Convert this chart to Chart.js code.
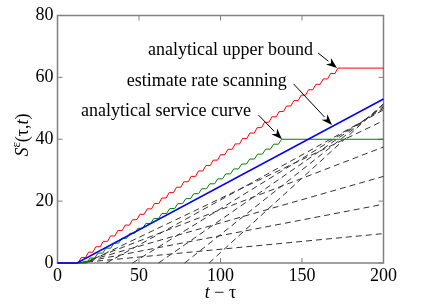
<!DOCTYPE html>
<html>
<head>
<meta charset="utf-8">
<script src="https://cdn.jsdelivr.net/npm/chart.js@4.4.1/dist/chart.umd.min.js"></script>
<style>
  html, body { margin: 0; padding: 0; background: #fff; }
  canvas { display: block; }
</style>
</head>
<body>
<canvas id="chart" width="424" height="307"></canvas>
<script>
// upper bound staircase
const redT = [0, 10, 14.5, 19, 23.5, 28, 32.5, 37, 41.5, 46, 50.5, 55, 59.5, 64, 68.5, 73, 77.5, 82, 86.5, 91, 95.5,
  100, 104.5, 109, 113.5, 118, 122.5, 127, 131.5, 136, 140.5, 145, 149.5, 154, 158.5, 163, 167.5, 172, 200];
const redS = [0, 0, 1.75, 3.5, 5.25, 7, 8.75, 10.5, 12.25, 14, 15.75, 17.5, 19.25, 21, 22.75, 24.5, 26.25, 28, 29.75,
  31.5, 33.25, 35, 36.75, 38.5, 40.25, 42, 43.75, 45.5, 47.25, 49, 50.75, 52.5, 54.25, 56, 57.75, 59.5, 61.25, 63, 63];

// service curve staircase
const greenT = [0, 15, 19.9, 24.8, 29.7, 34.6, 39.5, 44.4, 49.3, 54.2, 59.1, 64, 68.9, 73.8, 78.7, 83.6, 88.5, 93.4,
  98.3, 103.2, 108.1, 113, 117.9, 122.8, 127.7, 132.6, 137.5, 200];
const greenS = [0, 0, 1.6, 3.2, 4.8, 6.4, 8, 9.6, 11.2, 12.8, 14.4, 16, 17.6, 19.2, 20.8, 22.4, 24, 25.6, 27.2, 28.8,
  30.4, 32, 33.6, 35.2, 36.8, 38.4, 40, 40];

// rate scanning estimate
const blueT = [0, 12, 200];
const blueS = [0, 0, 53];

// dashed scan lines: where each leaves zero, and its value at t = 200
const scanStart = [12, 13, 14, 15, 17, 30, 46, 62, 78, 93];
const scanEnd = [9.5, 19, 28, 37.5, 46, 49.5, 50, 50.5, 51, 51.5];

const xTicks = [0, 50, 100, 150, 200];
const yTicks = [0, 20, 40, 60, 80];

const notes = [
  { text: 'analytical upper bound', at: [55.5, 68.8], from: [159.8, 67.9], to: [171.5, 63] },
  { text: 'estimate rate scanning', at: [42.5, 58.8], from: [144.8, 57.9], to: [168.4, 44.6] },
  { text: 'analytical service curve', at: [14.4, 48.9], from: [123.3, 47.8], to: [137.7, 40] }
];

const FONT = 'Liberation Serif';
const zip = (ts, vs) => ts.map((t, i) => ({ x: t, y: vs[i] }));

// staircase: flat run, then a short slanted riser ending on each step point
function stairs(ts, vs, frac) {
  const pts = [{ x: ts[0], y: vs[0] }];
  for (let i = 1; i < ts.length; i++) {
    if (vs[i] !== vs[i - 1]) {
      pts.push({ x: ts[i] - frac * (ts[i] - ts[i - 1]), y: vs[i - 1] });
    }
    pts.push({ x: ts[i], y: vs[i] });
  }
  return pts;
}

const datasets = [
  { data: zip(blueT, blueS), borderColor: '#0000ff', borderWidth: 1.5 },
  { data: stairs(greenT, greenS, 0.4), borderColor: '#008000', borderWidth: 1 },
  { data: stairs(redT, redS, 0.4), borderColor: '#ff0000', borderWidth: 1 }
];
scanStart.forEach((t0, i) => {
  datasets.push({
    data: [{ x: t0, y: 0 }, { x: 200, y: scanEnd[i] }],
    borderColor: '#333',
    borderWidth: 1,
    borderDash: [6, 4]
  });
});
datasets.forEach((d) => {
  d.showLine = true;
  d.pointRadius = 0;
  d.fill = false;
  d.clip = false;
});

function arrow(ctx, x0, y0, x1, y1) {
  const ang = Math.atan2(y1 - y0, x1 - x0);
  const len = 11, half = 4;
  const bx = x1 - len * Math.cos(ang), by = y1 - len * Math.sin(ang);
  ctx.beginPath();
  ctx.moveTo(x0, y0);
  ctx.lineTo(bx, by);
  ctx.stroke();
  ctx.beginPath();
  ctx.moveTo(x1, y1);
  ctx.lineTo(bx + half * Math.sin(ang), by - half * Math.cos(ang));
  ctx.lineTo(x1 - 0.7 * len * Math.cos(ang), y1 - 0.7 * len * Math.sin(ang));
  ctx.lineTo(bx - half * Math.sin(ang), by + half * Math.cos(ang));
  ctx.closePath();
  ctx.fill();
}

// draws a run of [text, style, size, raise] pieces starting at x
function drawRun(ctx, parts, x, y) {
  parts.forEach(([s, style, size, raise]) => {
    ctx.font = style + ' ' + size + 'px "' + FONT + '"';
    ctx.fillText(s, x, y - raise);
    x += ctx.measureText(s).width;
  });
}
function runWidth(ctx, parts) {
  return parts.reduce((w, [s, style, size]) => {
    ctx.font = style + ' ' + size + 'px "' + FONT + '"';
    return w + ctx.measureText(s).width;
  }, 0);
}

const frame = {
  id: 'frame',
  beforeDatasetsDraw(chart) {
    const { ctx, chartArea: a, scales: { x, y } } = chart;
    ctx.save();
    ctx.strokeStyle = '#808080';
    ctx.lineWidth = 1.5;
    ctx.strokeRect(a.left, a.top, a.right - a.left, a.bottom - a.top);
    ctx.lineWidth = 1;
    ctx.beginPath();
    x.ticks.forEach((t) => {
      const px = x.getPixelForValue(t.value);
      ctx.moveTo(px, a.bottom); ctx.lineTo(px, a.bottom - 5);
      ctx.moveTo(px, a.top); ctx.lineTo(px, a.top + 5);
    });
    y.ticks.forEach((t) => {
      const py = y.getPixelForValue(t.value);
      ctx.moveTo(a.left, py); ctx.lineTo(a.left + 5, py);
      ctx.moveTo(a.right, py); ctx.lineTo(a.right - 5, py);
    });
    ctx.stroke();
    ctx.restore();
  },
  afterDraw(chart) {
    const { ctx, chartArea: a, scales: { x, y } } = chart;
    ctx.save();
    ctx.fillStyle = '#000';
    ctx.strokeStyle = '#000';
    ctx.lineWidth = 1;

    // annotations
    ctx.textBaseline = 'middle';
    ctx.font = '18px "' + FONT + '"';
    notes.forEach((n) => {
      ctx.fillText(n.text, x.getPixelForValue(n.at[0]), y.getPixelForValue(n.at[1]));
      arrow(ctx,
        x.getPixelForValue(n.from[0]), y.getPixelForValue(n.from[1]),
        x.getPixelForValue(n.to[0]), y.getPixelForValue(n.to[1]));
    });

    // axis titles
    ctx.textBaseline = 'alphabetic';
    const xt = [['t', 'italic', 18, 0], [' \u2212 \u03c4', '', 18, 0]];
    drawRun(ctx, xt, (a.left + a.right) / 2 - runWidth(ctx, xt) / 2, 298);

    const yt = [['S', 'italic', 18, 0], ['\u03b5', '', 13, 8], ['(\u03c4,', '', 18, 0], ['t', 'italic', 18, 0], [')', '', 18, 0]];
    ctx.translate(22, 135);
    ctx.rotate(-Math.PI / 2);
    drawRun(ctx, yt, -runWidth(ctx, yt) / 2, 6);
    ctx.restore();
  }
};

new Chart(document.getElementById('chart'), {
  type: 'scatter',
  data: { datasets },
  options: {
    responsive: false,
    animation: false,
    layout: { padding: { top: 15.5, right: 40.5, left: 0, bottom: 0 } },
    scales: {
      x: {
        type: 'linear', min: 0, max: 200,
        afterBuildTicks: (s) => { s.ticks = xTicks.map((v) => ({ value: v })); },
        ticks: { color: '#000', font: { family: FONT, size: 18 }, padding: 2, maxRotation: 0 },
        grid: { display: false, drawTicks: false },
        border: { display: false },
        afterFit: (s) => { s.height = 44; }
      },
      y: {
        type: 'linear', min: 0, max: 80,
        afterBuildTicks: (s) => { s.ticks = yTicks.map((v) => ({ value: v })); },
        ticks: { color: '#000', font: { family: FONT, size: 18 }, padding: 4 },
        grid: { display: false, drawTicks: false },
        border: { display: false },
        afterFit: (s) => { s.width = 57.5; }
      }
    },
    plugins: { legend: { display: false }, tooltip: { enabled: false } }
  },
  plugins: [frame]
});
</script>
</body>
</html>
